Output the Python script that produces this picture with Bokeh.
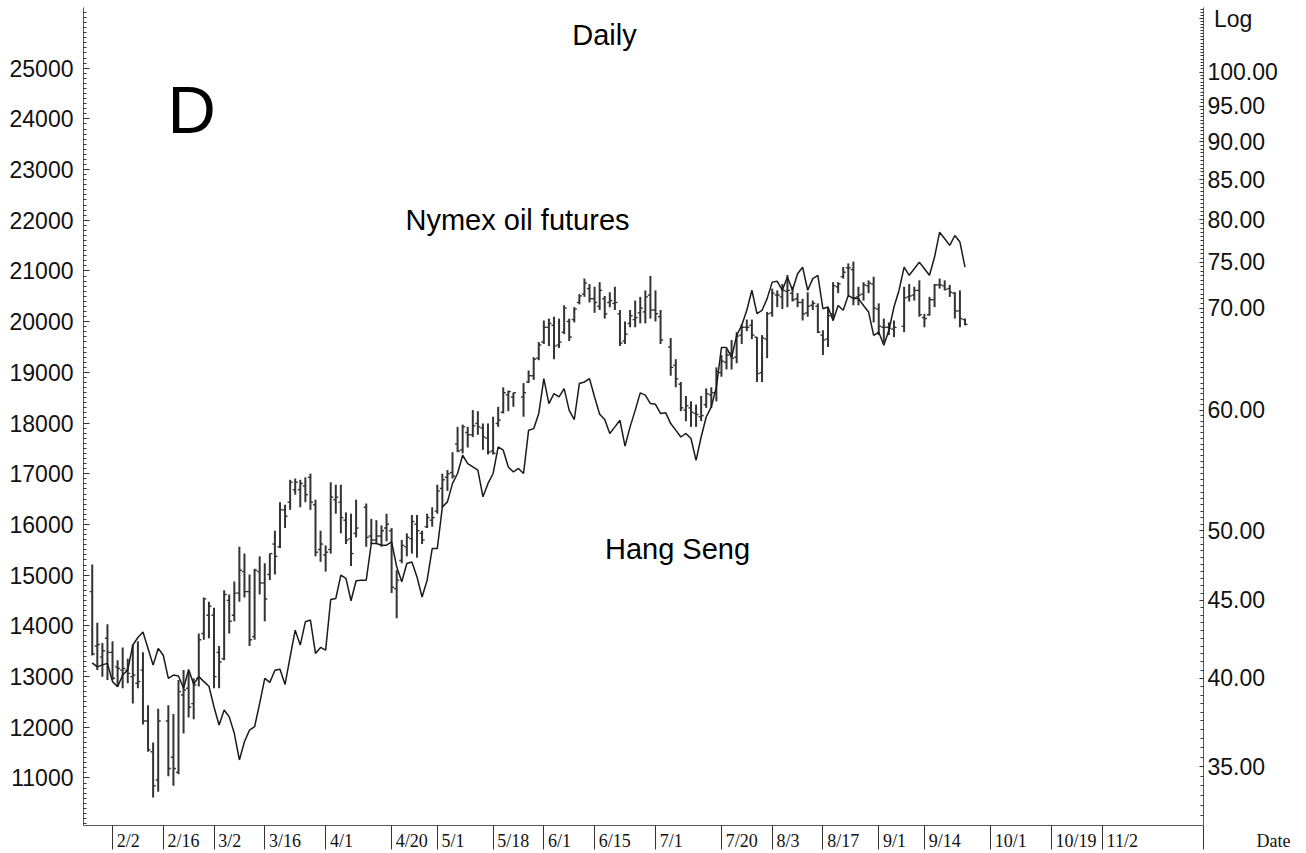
import numpy as np
import pandas as pd
from bokeh.plotting import figure
from bokeh.models import (Range1d, LinearAxis, LogAxis, LogScale, FixedTicker,
                          PrintfTickFormatter, Label, ColumnDataSource)
from bokeh.embed import file_html
from bokeh.resources import INLINE

# ---------------- data ----------------
first_day = "2009-01-27"
last_day = "2009-09-24"
anchor_day = "2009-02-02"

tick_dates = ["2009-02-02", "2009-02-16", "2009-03-02", "2009-03-16", "2009-04-01",
              "2009-04-20", "2009-05-01", "2009-05-18", "2009-06-01", "2009-06-15",
              "2009-07-01", "2009-07-20", "2009-08-03", "2009-08-17", "2009-09-01",
              "2009-09-14", "2009-10-01", "2009-10-19", "2009-11-02"]
tick_labels = ["2/2", "2/16", "3/2", "3/16", "4/1", "4/20", "5/1", "5/18", "6/1", "6/15",
               "7/1", "7/20", "8/3", "8/17", "9/1", "9/14", "10/1", "10/19", "11/2"]

# Hang Seng daily close (line, left axis)
hang_seng = [
    13270, 13190, 13230, 13260,
    12900, 12800, 13030, 13130, 13620, 13770, 13880, 13555, 13225, 13555,
    13420, 12965, 13030, 13010, 12770, 13140, 12850, 13000, 12900, 12810,
    12400, 12045, 12340, 12205, 11880, 11355, 11715, 11945, 12010, 12470,
    12965, 12885, 13125, 13145, 12845, 13390, 13915, 13620, 14080, 14115,
    13455, 13575, 13520, 14520, 14540, 15000, 14935, 14495, 14890, 14900,
    14900, 15625, 15625, 15590, 15590, 15655, 15165, 14870, 15230, 15260,
    14965, 14570, 14900, 15525, 15525, 16345, 16445, 16810, 17005, 17365,
    17200, 17135, 17070, 16545, 16810, 17005, 17530, 17465, 17135, 17035,
    17105, 17005, 17860, 17890, 18190, 18875, 18385, 18580, 18515, 18680,
    18250, 18070, 18780, 18810, 18875, 18515, 18175, 18070, 17795, 17925,
    18055, 17545, 17925, 18250, 18595, 18550, 18385, 18370, 18190, 18205,
    17990, 17860, 17725, 17795, 17695, 17265, 17725, 18120, 18320, 18710,
    19490, 19490, 19290, 19730, 19930, 20225, 20620, 20160, 20225, 20455,
    20780, 20795, 20620, 20880, 20620, 20945, 21075, 20620, 20850, 20915,
    20255, 20290, 20025, 20320, 20225, 20520, 20455, 20455, 20320, 20190,
    19730, 19795, 19535, 19830, 20290, 20620, 21075, 20915, 21045, 21175,
    21045, 20915, 21275, 21765, 21635, 21505, 21700, 21570, 21075,
]

N = None
# Nymex crude oil daily bars (right log axis); None = no session
oil_high = [
    47.5, 43.5, 42.2, 43.4,
    42.3, 41.1, 41.9, 41.2, 42.1, 42.3, 41.6, 38.4, 36.3, 38.2,
    N, 38.4, 37.9, 39.9, 40.5, 40.3, 40.0, 42.8, 45.2, 44.9,
    44.5, 42.0, 45.7, 45.4, 46.3, 48.8, 48.3, 46.8, 47.2, 48.1,
    47.6, 48.3, 50.0, 52.2, 52.0, 54.0, 54.1, 54.0, 54.2, 54.5,
    52.4, 50.0, 48.9, 53.8, 53.6, 53.6, 51.4, 51.3, 52.4, N,
    52.1, 50.9, 50.8, 50.4, 51.3, 50.2, 47.1, 49.3, 49.8, 51.2,
    51.2, 50.0, 51.3, 51.8, 53.6, 54.5, 54.8, 56.3, 58.5, 58.7,
    58.5, 60.0, 59.9, 58.8, 58.8, 59.4, 60.3, 62.1, 61.8, 61.6,
    N, 62.5, 63.7, 65.0, 66.5, 68.7, 68.9, 69.1, 68.9, 70.3,
    68.9, 70.1, 71.5, 73.2, 72.6, 72.3, 72.8, 71.3, 71.7, 72.3,
    69.8, 68.6, 69.8, 70.8, 71.2, 71.9, 73.5, 71.9, 69.8, N,
    66.9, 64.8, 62.6, 61.3, 60.8, 60.5, 61.3, 62.0, 62.1, 64.0,
    65.2, 65.8, 66.7, 67.5, 68.3, 68.8, 68.8, 67.0, 67.2, 69.6,
    72.1, 71.9, 72.6, 73.6, 72.3, 71.6, 71.0, 71.7, 70.8, 70.5,
    67.7, 70.1, 72.8, 72.8, 74.5, 74.9, 75.1, 72.3, 72.8, 73.0,
    73.4, 70.5, 68.9, 68.5, 68.7, N, 72.3, 72.6, 72.3, 73.0,
    69.4, 71.2, 72.6, 73.2, 73.0, 72.5, 71.7, 71.9, 68.9,
]
oil_low = [
    41.4, 40.5, 40.1, 39.9,
    39.9, 39.5, 39.4, 39.7, 38.5, 39.4, 37.3, 35.8, 33.4, 33.7,
    N, 34.5, 34.0, 34.6, 36.8, 37.7, 37.6, 39.5, 42.4, 42.5,
    39.4, 39.4, 41.1, 42.8, 43.6, 44.9, 45.2, 42.0, 42.4, 45.4,
    43.6, 46.4, 46.8, 48.7, 50.2, 51.6, 52.8, 51.8, 52.2, 51.6,
    48.1, 47.7, 47.0, 48.3, 51.3, 49.8, 49.0, 47.4, 49.5, N,
    48.8, 49.0, 49.0, 48.8, 49.2, 45.5, 43.8, 47.6, 48.1, 48.3,
    48.0, 49.0, 50.2, 50.3, 51.3, 51.8, 53.1, 54.1, 56.3, 56.2,
    56.7, 57.6, 57.8, 56.5, 56.1, 56.1, 58.5, 59.7, 59.9, 60.3,
    N, 59.4, 62.5, 62.8, 64.7, 66.3, 66.1, 64.8, 65.9, 67.3,
    66.6, 68.5, 70.4, 71.2, 70.6, 69.5, 69.8, 68.9, 70.1, 69.8,
    66.1, 66.3, 68.0, 68.0, 68.4, 68.4, 68.9, 68.6, 66.3, N,
    63.2, 62.1, 59.9, 59.0, 58.5, 58.5, 59.0, 60.2, 60.2, 60.8,
    63.1, 63.8, 63.8, 64.4, 66.3, 67.6, 66.8, 62.6, 62.6, 64.9,
    69.1, 70.1, 69.9, 70.1, 70.7, 70.1, 68.7, 69.1, 69.8, 67.4,
    65.2, 66.0, 68.7, 71.6, 73.2, 71.4, 70.3, 70.3, 70.8, 71.6,
    68.5, 67.2, 66.5, 67.2, 67.0, N, 67.5, 70.7, 70.8, 69.1,
    68.0, 69.2, 70.1, 72.1, 71.9, 71.2, 68.9, 68.0, 68.2,
]
oil_open = [
    45.6, 42.0, 41.3, 42.5,
    41.6, 40.7, 40.5, 40.5, 40.1, 39.7, 40.5, 37.5, 35.8, 34.3,
    N, 37.5, 35.5, 34.7, 39.0, 39.4, 38.5, 40.0, 42.8, 44.0,
    44.0, 41.6, 41.2, 45.0, 44.0, 45.5, 47.0, 45.6, 42.6, 47.0,
    46.2, 46.8, 49.0, 48.8, 51.6, 52.2, 53.2, 53.2, 53.5, 54.2,
    52.0, 48.6, 48.2, 48.6, 52.4, 52.2, 50.8, 49.4, 49.8, N,
    51.8, 49.6, 49.3, 49.6, 50.2, 50.0, 45.8, 47.8, 48.8, 49.4,
    50.5, 49.8, 50.3, 50.8, 51.5, 53.3, 54.2, 54.6, 57.0, 56.5,
    58.0, 57.8, 58.8, 58.4, 57.5, 56.4, 58.8, 59.8, 61.4, 61.2,
    N, 61.2, 62.6, 63.2, 64.9, 66.5, 68.0, 68.2, 66.2, 67.5,
    68.6, 68.8, 70.6, 71.5, 72.1, 71.0, 70.2, 71.0, 70.6, 70.5,
    69.4, 66.6, 68.4, 68.8, 69.5, 69.6, 71.4, 69.8, 69.1, N,
    66.0, 64.2, 62.4, 60.0, 60.2, 59.7, 59.4, 60.5, 61.4, 61.6,
    63.5, 64.5, 65.4, 65.0, 67.2, 68.0, 68.2, 67.0, 63.5, 66.8,
    69.5, 71.4, 71.2, 71.8, 71.6, 71.0, 70.6, 69.5, 70.3, 70.2,
    67.2, 66.8, 69.4, 72.3, 73.4, 74.4, 74.2, 71.2, 71.5, 72.4,
    72.6, 69.9, 68.0, 68.0, 67.8, N, 68.1, 71.2, 71.4, 71.9,
    69.0, 69.3, 70.9, 72.5, 72.4, 72.1, 71.6, 69.7, 68.8,
]
oil_close = [
    41.5, 42.1, 41.7, 41.6,
    40.0, 40.6, 40.6, 40.3, 40.2, 39.8, 37.5, 35.9, 34.0, 37.5,
    N, 34.9, 34.9, 39.2, 39.3, 38.3, 39.6, 42.4, 45.1, 44.6,
    40.1, 41.0, 45.4, 43.6, 45.5, 47.1, 45.6, 42.4, 47.1, 46.2,
    45.1, 48.3, 48.1, 51.6, 51.1, 53.8, 53.8, 53.7, 52.8, 52.2,
    48.4, 49.0, 48.4, 52.6, 52.6, 51.0, 49.3, 48.3, 50.2, N,
    49.5, 49.3, 49.6, 50.0, 50.5, 45.9, 46.4, 48.9, 49.5, 50.7,
    50.0, 49.3, 51.0, 51.0, 53.1, 54.0, 54.5, 54.3, 56.4, 58.5,
    57.8, 58.6, 58.5, 57.6, 56.3, 56.2, 59.1, 61.6, 61.7, 61.6,
    N, 61.6, 63.2, 64.8, 66.2, 68.0, 68.4, 66.1, 66.5, 70.0,
    67.0, 69.9, 71.3, 72.7, 71.0, 70.6, 71.9, 69.4, 70.8, 70.6,
    66.4, 67.3, 69.2, 69.0, 70.0, 71.2, 69.8, 69.4, 66.7, N,
    64.0, 62.9, 60.2, 60.4, 59.8, 59.6, 59.5, 61.5, 61.6, 63.6,
    64.6, 65.2, 64.9, 67.1, 68.0, 68.0, 67.2, 63.4, 66.9, 69.4,
    71.6, 71.4, 71.9, 71.9, 70.9, 70.6, 69.4, 70.2, 70.5, 67.5,
    66.7, 69.2, 72.4, 72.6, 73.9, 74.4, 71.1, 71.4, 72.5, 72.7,
    70.0, 68.1, 68.0, 67.9, 68.0, N, 71.1, 71.3, 71.9, 69.3,
    68.9, 70.9, 72.5, 72.5, 72.0, 71.7, 69.7, 68.9, 68.3,
]

hs_ticks = [11000, 12000, 13000, 14000, 15000, 16000, 17000, 18000,
            19000, 20000, 21000, 22000, 23000, 24000, 25000]
oil_ticks = [35, 40, 45, 50, 60, 70, 75, 80, 85, 90, 95, 100]
log_tag_value = 108.37      # where the "Log" tag sits on the right scale

# ---------------- build ----------------
dates = pd.bdate_range(first_day, last_day)
x = np.busday_count(np.datetime64(anchor_day), dates.values.astype("datetime64[D]")).astype(float)
tick_pos = [int(np.busday_count(np.datetime64(anchor_day), np.datetime64(d))) for d in tick_dates]

def arr(v):
    return np.array([np.nan if a is None else a for a in v], dtype=float)

hi, lo, op, cl = arr(oil_high), arr(oil_low), arr(oil_open), arr(oil_close)
tick_len = 0.5
src = ColumnDataSource(dict(x=x, xl=x - tick_len, xr=x + tick_len,
                            hi=hi, lo=lo, op=op, cl=cl))
hs_src = ColumnDataSource(dict(x=x, y=np.array(hang_seng, dtype=float)))

FONT = "Liberation Sans"
NB = "\u00a0"
W, H = 1290, 853
x_end = 215
DATE_PX = 18.0

# Bottom labels are centred on their tick by Bokeh; pad with no-break spaces so the
# visible text starts just right of the tick line, as in the original.
SERIF_EM = {"/": 0.278, "D": 0.722, "a": 0.444, "t": 0.278, "e": 0.444}
def em_width(s):
    return sum(SERIF_EM.get(c, 0.5) for c in s)

def right_of_tick(s, gap_px):
    pad_em = em_width(s) + 2 * gap_px / DATE_PX
    return NB * int(round(pad_em / 0.25)) + s

p = figure(width=W, height=H, output_backend="svg", toolbar_location=None,
           x_range=Range1d(-5.72, x_end), y_range=Range1d(10062, 26197),
           min_border_left=83, min_border_right=87, min_border_top=7, min_border_bottom=28,
           y_axis_location=None, x_axis_location=None)
p.outline_line_color = None
p.xgrid.visible = False
p.ygrid.visible = False
p.background_fill_color = "white"
p.border_fill_color = "white"

p.extra_y_ranges = {"oil": Range1d(32.02, 110.27)}
p.extra_y_scales = {"oil": LogScale()}

axis_color = "#5a5a5a"

# left axis (Hang Seng)
ly = LinearAxis(ticker=FixedTicker(ticks=hs_ticks, minor_ticks=list(range(10100, 26200, 100))))
ly.axis_line_color = axis_color
ly.major_tick_line_color = "#333333"
ly.minor_tick_line_color = "#333333"
ly.major_tick_in = 6
ly.major_tick_out = 0
ly.minor_tick_in = 3
ly.minor_tick_out = 0
ly.major_label_standoff = 10
ly.major_label_text_font = FONT
ly.major_label_text_font_size = "23px"
ly.major_label_text_color = "#111111"
p.add_layout(ly, "left")

# right axis (oil, log)
ry = LogAxis(y_range_name="oil",
             ticker=FixedTicker(ticks=oil_ticks + [log_tag_value],
                                minor_ticks=[v / 2 for v in range(65, 221)]),
             formatter=PrintfTickFormatter(format="%.2f"))
ry.major_label_overrides = {log_tag_value: NB + "Log"}
ry.axis_line_color = axis_color
ry.major_tick_line_color = "#333333"
ry.minor_tick_line_color = "#333333"
ry.major_tick_in = 4
ry.major_tick_out = 0
ry.minor_tick_in = 3
ry.minor_tick_out = 0
ry.major_label_standoff = 4
ry.major_label_text_font = FONT
ry.major_label_text_font_size = "23px"
ry.major_label_text_color = "#111111"
p.add_layout(ry, "right")

# bottom date axis
bx = LinearAxis(ticker=FixedTicker(ticks=tick_pos + [x_end], minor_ticks=[]))
overrides = {pos: right_of_tick(lab, 4) for pos, lab in zip(tick_pos, tick_labels)}
overrides[x_end] = right_of_tick("Date", 76)
bx.major_label_overrides = overrides
bx.axis_line_color = axis_color
bx.major_tick_line_color = "#333333"
bx.major_tick_in = 0
bx.major_tick_out = 24
bx.major_label_standoff = -19
bx.major_label_text_font = "Liberation Serif"
bx.major_label_text_font_size = "18px"
bx.major_label_text_color = "#111111"
p.add_layout(bx, "below")

# oil bars
bar_color = "#333333"
p.segment(x0="x", y0="lo", x1="x", y1="hi", source=src, y_range_name="oil",
          line_color=bar_color, line_width=2)
p.segment(x0="xl", y0="op", x1="x", y1="op", source=src, y_range_name="oil",
          line_color=bar_color, line_width=1.4)
p.segment(x0="x", y0="cl", x1="xr", y1="cl", source=src, y_range_name="oil",
          line_color=bar_color, line_width=1.4)

# Hang Seng line
p.line(x="x", y="y", source=hs_src, line_color="#1a1a1a", line_width=1.5)

# labels: screen units are relative to the plot frame (origin bottom-left)
def lab(text, xs, ys, size, align="left", font=FONT):
    p.add_layout(Label(x=xs, y=ys, x_units="screen", y_units="screen", text=text,
                       text_font=font, text_font_size=size, text_align=align,
                       text_baseline="alphabetic", text_color="#000000"))

lab("Daily", 521, 791, "29px", "center")
lab("D", 84, 716, "67px")
lab("Nymex oil futures", 434, 606, "29px", "center")
lab("Hang Seng", 594, 277, "29px", "center")

open("out.html", "w").write(file_html(p, INLINE))
